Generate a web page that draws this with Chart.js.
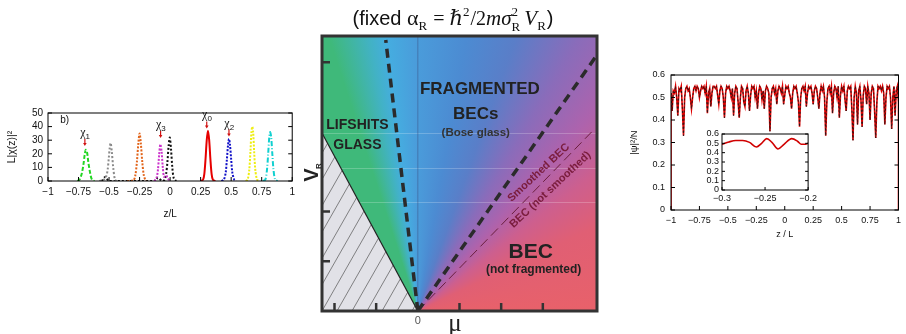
<!DOCTYPE html>
<html>
<head>
<meta charset="utf-8">
<script src="https://cdn.jsdelivr.net/npm/chart.js@4.4.1/dist/chart.umd.min.js"></script>
<style>
  body { margin: 0; background: #fff; width: 906px; height: 334px; position: relative; overflow: hidden; }
  .box { position: absolute; }
</style>
</head>
<body>
<div class="box" style="left:0;top:100px;width:300px;height:120px"><canvas id="chiChart"></canvas></div>
<div class="box" style="left:300px;top:0;width:310px;height:334px"><canvas id="phaseChart"></canvas></div>
<div class="box" style="left:620px;top:60px;width:286px;height:180px"><canvas id="psiChart"></canvas></div>
<div class="box" style="left:690px;top:125px;width:130px;height:85px"><canvas id="insetChart"></canvas></div>
<script>
Chart.defaults.font.family = '"Liberation Sans", Arial, sans-serif';
Chart.defaults.color = '#111';
Chart.defaults.animation = false;

// ---- left panel: localized states chi_n(z) ----
const chi1X = [-0.76, -0.745, -0.725, -0.71, -0.70, -0.69, -0.68, -0.67, -0.655, -0.64, -0.62];
const chi1Y = [0, 0.5, 5, 12, 19, 23, 21, 14, 6, 1, 0];
const greyX = [-0.58, -0.55, -0.525, -0.512, -0.502, -0.495, -0.487, -0.478, -0.466, -0.452, -0.44];
const greyY = [0, 0.5, 3, 8, 17, 24, 28, 22, 10, 1, 0];
const orangeX = [-0.35, -0.30, -0.285, -0.272, -0.26, -0.25, -0.24, -0.228, -0.215, -0.20];
const orangeY = [0, 0.5, 4, 14, 28, 35, 28, 14, 4, 0];
const chi3X = [-0.13, -0.112, -0.10, -0.09, -0.08, -0.07, -0.06, -0.05, -0.04, -0.03, -0.02, 0.0];
const chi3Y = [0, 2, 8, 19, 27, 22, 10, 3, 3.5, 4, 2, 0];
const blackX = [-0.56, -0.53, -0.50, -0.12, -0.10, -0.08, -0.06, -0.045, -0.033, -0.022, -0.012, -0.003, 0.007, 0.018, 0.03, 0.05];
const blackY = [0, 3, 0, 0, 2.5, 1, 0, 1, 5, 14, 26, 32, 24, 10, 2, 0];
const chi0X = [0.25, 0.27, 0.28, 0.29, 0.30, 0.31, 0.32, 0.33, 0.34, 0.35, 0.37];
const chi0Y = [0, 1, 5, 16, 30, 37, 30, 16, 5, 1, 0];
const chi2X = [0.42, 0.44, 0.455, 0.465, 0.475, 0.482, 0.49, 0.50, 0.51, 0.525, 0.54];
const chi2Y = [0, 1, 6, 16, 27, 31, 27, 16, 6, 1, 0];
const yellowX = [0.62, 0.635, 0.648, 0.658, 0.666, 0.673, 0.68, 0.688, 0.698, 0.712, 0.73];
const yellowY = [0, 1, 8, 22, 36, 40, 36, 22, 8, 1, 0];
const cyanX = [0.76, 0.78, 0.793, 0.803, 0.812, 0.82, 0.828, 0.837, 0.847, 0.86, 0.88];
const cyanY = [0, 1, 8, 20, 32, 36, 32, 20, 8, 1, 0];
const chiNames = ['1', '3', '0', '2'];
const chiLabelX = [-0.698, -0.078, 0.30, 0.482];
const chiLabelY = [33, 39, 46, 40];

// ---- middle panel: phase diagram (mu, V_R) ----
const muRange = [-2.3, 4.3];
const vRange = [0, 5.53];
const muTicks = [-2, -1, 1, 2, 3];
const vTicks = [1, 2, 5];
const hatchMu = [-2.3, 0, -2.3];
const hatchV = [3.58, 0, 0];
const steepMu = [0, -0.77];
const steepV = [0, 5.45];
const fragMu = [0, 4.3];
const fragV = [0, 5.15];
const smoothMu = [0, 4.17];
const smoothV = [0, 3.60];

// ---- right panel: density |psi|^2/N ----
const psiStart = -1, psiStep = 0.01;
const psiValues = [
  0.52, 0.44, 0.53, 0.52, 0.55, 0.50, 0.42, 0.54, 0.53, 0.55,
  0.45, 0.33, 0.50, 0.54, 0.55, 0.53, 0.54, 0.50, 0.45, 0.50,
  0.54, 0.55, 0.53, 0.55, 0.54, 0.50, 0.53, 0.55, 0.54, 0.55,
  0.52, 0.55, 0.43, 0.52, 0.54, 0.46, 0.52, 0.55, 0.55, 0.54,
  0.55, 0.51, 0.47, 0.53, 0.55, 0.54, 0.50, 0.41, 0.52, 0.55,
  0.54, 0.55, 0.53, 0.50, 0.54, 0.42, 0.52, 0.55, 0.54, 0.48,
  0.41, 0.50, 0.55, 0.54, 0.48, 0.46, 0.53, 0.55, 0.52, 0.44,
  0.51, 0.55, 0.54, 0.55, 0.50, 0.53, 0.45, 0.52, 0.55, 0.54,
  0.49, 0.53, 0.45, 0.53, 0.55, 0.54, 0.52, 0.35, 0.50, 0.54,
  0.55, 0.52, 0.54, 0.47, 0.53, 0.55, 0.54, 0.52, 0.55, 0.47,
  0.51, 0.55, 0.54, 0.55, 0.52, 0.50, 0.45, 0.52, 0.55, 0.54,
  0.55, 0.52, 0.48, 0.37, 0.50, 0.54, 0.55, 0.53, 0.55, 0.46,
  0.52, 0.55, 0.54, 0.55, 0.52, 0.47, 0.53, 0.55, 0.54, 0.50,
  0.45, 0.52, 0.55, 0.53, 0.55, 0.50, 0.33, 0.48, 0.54, 0.55,
  0.52, 0.55, 0.43, 0.52, 0.55, 0.54, 0.50, 0.55, 0.41, 0.51,
  0.55, 0.53, 0.55, 0.49, 0.44, 0.53, 0.55, 0.54, 0.55, 0.45,
  0.31, 0.50, 0.55, 0.52, 0.38, 0.53, 0.55, 0.49, 0.37, 0.51,
  0.55, 0.54, 0.47, 0.55, 0.52, 0.40, 0.52, 0.55, 0.54, 0.44,
  0.32, 0.48, 0.55, 0.54, 0.55, 0.53, 0.55, 0.52, 0.38, 0.50,
  0.55, 0.54, 0.55, 0.50, 0.36, 0.50, 0.55, 0.42, 0.53, 0.55,
  0.48
];
const insetX = [-0.300, -0.292, -0.284, -0.276, -0.268, -0.260, -0.254, -0.248, -0.242, -0.235, -0.228, -0.219, -0.212, -0.208, -0.204, -0.200];
const insetY = [0.49, 0.515, 0.53, 0.53, 0.51, 0.46, 0.50, 0.55, 0.51, 0.44, 0.49, 0.55, 0.52, 0.49, 0.49, 0.50];

const toPoints = (xs, ys) => xs.map((x, i) => ({ x, y: ys[i] }));
const fmt = (v) => {
  const r = Math.round(v * 1000) / 1000;
  return (r < 0 ? '\u2212' : '') + Math.abs(r);
};

// box + inward ticks, gnuplot style
const frame = {
  id: 'frame',
  afterDatasetsDraw(chart, args, opts) {
    const { ctx, chartArea: a, scales } = chart;
    const len = opts.tick || 4;
    ctx.save();
    ctx.strokeStyle = opts.color || '#000';
    ctx.lineWidth = opts.width || 1;
    ctx.strokeRect(a.left, a.top, a.width, a.height);
    ctx.beginPath();
    scales.x.ticks.forEach((t) => {
      const px = scales.x.getPixelForValue(t.value);
      ctx.moveTo(px, a.bottom);
      ctx.lineTo(px, a.bottom - len);
    });
    scales.y.ticks.forEach((t) => {
      const py = scales.y.getPixelForValue(t.value);
      ctx.moveTo(a.left, py);
      ctx.lineTo(a.left + len, py);
      if (opts.mirrorY) {
        ctx.moveTo(a.right, py);
        ctx.lineTo(a.right - len, py);
      }
    });
    ctx.stroke();
    ctx.restore();
  }
};

// ---------- left chart ----------
const chiSeries = [
  { x: chi1X, y: chi1Y, color: '#22d622', dash: [4, 2] },
  { x: greyX, y: greyY, color: '#8a8a8a', dash: [2, 2] },
  { x: orangeX, y: orangeY, color: '#e2641a', dash: [2, 1.5] },
  { x: chi3X, y: chi3Y, color: '#cc33cc', dash: [2, 1.5] },
  { x: blackX, y: blackY, color: '#111111', dash: [2, 2] },
  { x: chi0X, y: chi0Y, color: '#e60000', dash: [] },
  { x: chi2X, y: chi2Y, color: '#1010c8', dash: [2, 1.5] },
  { x: yellowX, y: yellowY, color: '#eeee10', dash: [2, 1.5] },
  { x: cyanX, y: cyanY, color: '#10d0d0', dash: [5, 2, 1, 2] }
];

const chiLabels = {
  id: 'chiLabels',
  afterDatasetsDraw(chart) {
    const { ctx, scales: { x, y } } = chart;
    ctx.save();
    ctx.fillStyle = '#111';
    ctx.textBaseline = 'alphabetic';
    chiNames.forEach((n, i) => {
      const px = x.getPixelForValue(chiLabelX[i]);
      const py = y.getPixelForValue(chiLabelY[i]);
      ctx.font = '12px "Liberation Serif", "DejaVu Serif", serif';
      const w = ctx.measureText('\u03c7').width;
      ctx.fillText('\u03c7', px - w / 2 - 2, py);
      ctx.font = '8px "Liberation Sans", sans-serif';
      ctx.fillText(n, px + w / 2 - 2, py + 3);
      // small red arrow
      ctx.strokeStyle = '#d01010';
      ctx.fillStyle = '#d01010';
      ctx.lineWidth = 1.2;
      ctx.beginPath();
      ctx.moveTo(px, py + 3);
      ctx.lineTo(px, py + 8);
      ctx.stroke();
      ctx.beginPath();
      ctx.moveTo(px - 1.8, py + 7);
      ctx.lineTo(px + 1.8, py + 7);
      ctx.lineTo(px, py + 10);
      ctx.fill();
      ctx.fillStyle = '#111';
    });
    ctx.font = '10px "Liberation Sans", sans-serif';
    ctx.fillText('b)', x.getPixelForValue(-0.9), y.getPixelForValue(43));
    ctx.restore();
  }
};

new Chart(document.getElementById('chiChart'), {
  type: 'line',
  data: {
    datasets: chiSeries.map((s) => ({
      data: toPoints(s.x, s.y),
      borderColor: s.color,
      borderWidth: 2,
      borderDash: s.dash,
      pointRadius: 0,
      tension: 0.3,
      fill: false
    }))
  },
  options: {
    responsive: true,
    maintainAspectRatio: false,
    layout: { padding: { top: 13, right: 7, left: 0, bottom: 0 } },
    plugins: { legend: { display: false }, tooltip: { enabled: false }, frame: { tick: 4, mirrorY: true } },
    scales: {
      x: {
        type: 'linear', min: -1, max: 1,
        grid: { display: false, drawTicks: false },
        border: { display: false },
        ticks: { stepSize: 0.25, padding: 5, font: { size: 10 }, maxRotation: 0, autoSkip: false, callback: fmt },
        title: { display: true, text: 'z/L', font: { size: 10 }, padding: 0 },
        afterFit: (s) => { s.height = 39; }
      },
      y: {
        min: 0, max: 50,
        grid: { display: false, drawTicks: false },
        border: { display: false },
        ticks: { stepSize: 10, padding: 5, font: { size: 10 }, autoSkip: false },
        title: { display: true, text: 'L|\u03c7(z)|\u00b2', font: { size: 10.5 }, padding: { top: 6, bottom: 0 } },
        afterFit: (s) => { s.width = 48; }
      }
    }
  },
  plugins: [frame, chiLabels]
});

// ---------- middle chart ----------
const phaseBg = {
  id: 'phaseBg',
  beforeDatasetsDraw(chart) {
    const { ctx, chartArea: a, scales: { x, y } } = chart;
    const ox = x.getPixelForValue(0), oy = y.getPixelForValue(0);
    ctx.save();
    const g = ctx.createConicGradient(-Math.PI, ox, oy);
    const stops = [
      [0, '#3fb97a'], [0.20, '#3fb97a'], [0.222, '#42b2c4'], [0.232, '#45ade0'],
      [0.248, '#4a9ddb'], [0.278, '#4c8bd2'], [0.305, '#5a7ec8'], [0.335, '#8a6cba'],
      [0.365, '#ad63ad'], [0.395, '#cd5f8e'], [0.43, '#e05f74'], [0.5, '#e8616a'], [1, '#e8616a']
    ];
    stops.forEach(([t, c]) => g.addColorStop(t, c));
    ctx.fillStyle = g;
    ctx.fillRect(a.left, a.top, a.width, a.height);
    // faint scan lines
    ctx.strokeStyle = 'rgba(255,255,255,0.22)';
    ctx.lineWidth = 1;
    [3.58, 2.88, 2.19].forEach((v) => {
      const py = Math.round(y.getPixelForValue(v)) + 0.5;
      ctx.beginPath();
      ctx.moveTo(a.left, py);
      ctx.lineTo(a.right, py);
      ctx.stroke();
    });
    // hatched region
    ctx.beginPath();
    hatchMu.forEach((m, i) => {
      const px = x.getPixelForValue(m), py = y.getPixelForValue(hatchV[i]);
      if (i === 0) ctx.moveTo(px, py); else ctx.lineTo(px, py);
    });
    ctx.closePath();
    ctx.fillStyle = '#e1e1e7';
    ctx.fill();
    ctx.clip();
    ctx.strokeStyle = '#555';
    ctx.lineWidth = 0.7;
    for (let k = -20; k < 20; k++) {
      const x0 = a.left + k * 15;
      ctx.beginPath();
      ctx.moveTo(x0, a.bottom);
      ctx.lineTo(x0 + 0.57 * a.height, a.top);
      ctx.stroke();
    }
    ctx.restore();
  },
  afterDatasetsDraw(chart) {
    const { ctx, chartArea: a, scales: { x, y } } = chart;
    const P = (m, v) => [x.getPixelForValue(m), y.getPixelForValue(v)];
    ctx.save();
    // inward ticks
    ctx.strokeStyle = '#333';
    ctx.lineWidth = 2.5;
    ctx.beginPath();
    muTicks.forEach((m) => {
      const px = x.getPixelForValue(m);
      ctx.moveTo(px, a.bottom);
      ctx.lineTo(px, a.bottom - 8);
    });
    vTicks.forEach((v) => {
      const py = y.getPixelForValue(v);
      ctx.moveTo(a.left, py);
      ctx.lineTo(a.left + 8, py);
    });
    ctx.stroke();
    ctx.lineWidth = 3;
    ctx.strokeRect(a.left, a.top, a.width, a.height);

    ctx.textAlign = 'center';
    ctx.textBaseline = 'middle';
    ctx.fillStyle = '#222';
    const txt = (s, m, v, font) => {
      ctx.font = font;
      const [px, py] = P(m, v);
      ctx.fillText(s, px, py);
    };
    txt('LIFSHITS', -1.45, 3.74, 'bold 14px "Liberation Sans", Arial, sans-serif');
    txt('GLASS', -1.45, 3.34, 'bold 14px "Liberation Sans", Arial, sans-serif');
    txt('FRAGMENTED', 1.49, 4.45, 'bold 17px "Liberation Sans", Arial, sans-serif');
    txt('BECs', 1.39, 3.96, 'bold 17px "Liberation Sans", Arial, sans-serif');
    ctx.fillStyle = '#333';
    txt('(Bose glass)', 1.39, 3.58, 'bold 11.5px "Liberation Sans", Arial, sans-serif');
    ctx.fillStyle = '#222';
    txt('BEC', 2.71, 1.19, 'bold 21px "Liberation Sans", Arial, sans-serif');
    txt('(not fragmented)', 2.78, 0.83, 'bold 12px "Liberation Sans", Arial, sans-serif');
    // labels along the smoothing crossover
    ctx.fillStyle = '#7a1c3c';
    ctx.font = 'bold 11px "Liberation Sans", Arial, sans-serif';
    [['Smoothed BEC', 2.90, 2.78], ['BEC (not smoothed)', 3.18, 2.44]].forEach(([s, m, v]) => {
      const [px, py] = P(m, v);
      ctx.save();
      ctx.translate(px, py);
      ctx.rotate(-43 * Math.PI / 180);
      ctx.fillText(s, 0, 0);
      ctx.restore();
    });
    ctx.restore();
  },
  afterDraw(chart) {
    const { ctx, chartArea: a, scales: { x } } = chart;
    ctx.save();
    ctx.fillStyle = '#111';
    ctx.textBaseline = 'alphabetic';
    // title with sub/superscripts
    const serif = '"Liberation Serif", "DejaVu Serif", serif';
    const parts = [
      { t: '(fixed ', f: '20px "Liberation Sans", Arial, sans-serif' },
      { t: '\u03b1', f: '22px ' + serif },
      { t: 'R', f: '13px ' + serif, dy: 5 },
      { t: ' = ', f: '20px ' + serif },
      { t: '\u210f', f: 'italic 21px ' + serif },
      { t: '2', f: '13px ' + serif, dy: -9 },
      { t: '/2', f: '20px ' + serif },
      { t: 'm\u03c3', f: 'italic 21px ' + serif },
      { t: '2', f: '13px ' + serif, dy: -9, stack: 'R' },
      { t: ' V', f: 'italic 21px ' + serif },
      { t: 'R', f: '13px ' + serif, dy: 5 },
      { t: ')', f: '20px "Liberation Sans", Arial, sans-serif' }
    ];
    let total = 0;
    parts.forEach((p) => { ctx.font = p.f; p.w = ctx.measureText(p.t).width + (p.dy ? 1 : 0); total += p.w; });
    let cx = 153 - total / 2;
    parts.forEach((p) => {
      ctx.font = p.f;
      ctx.fillText(p.t, cx, 25 + (p.dy || 0));
      if (p.stack) ctx.fillText(p.stack, cx, 31);
      cx += p.w;
    });
    // axis labels
    ctx.textAlign = 'center';
    ctx.fillStyle = '#555';
    ctx.font = '11px "Liberation Sans", Arial, sans-serif';
    ctx.fillText('0', x.getPixelForValue(0), a.bottom + 13);
    ctx.fillStyle = '#222';
    ctx.font = '25px "Liberation Serif", "DejaVu Serif", serif';
    ctx.fillText('\u03bc', 155, 331);
    ctx.translate(12, 175);
    ctx.rotate(-Math.PI / 2);
    ctx.font = 'bold 20px "Liberation Sans", Arial, sans-serif';
    ctx.fillText('V', 0, 6);
    ctx.font = 'bold 8px "Liberation Sans", Arial, sans-serif';
    ctx.fillText('R', 9, 9);
    ctx.restore();
  }
};

new Chart(document.getElementById('phaseChart'), {
  type: 'scatter',
  data: {
    datasets: [
      { data: toPoints(steepMu, steepV), showLine: true, borderColor: '#2b2b2b', borderWidth: 3.5, borderDash: [9, 6], pointRadius: 0 },
      { data: toPoints(fragMu, fragV), showLine: true, borderColor: '#2b2b2b', borderWidth: 3.5, borderDash: [9, 6], pointRadius: 0 },
      { data: toPoints(smoothMu, smoothV), showLine: true, borderColor: '#6b1f3e', borderWidth: 1, borderDash: [10, 5], pointRadius: 0 },
      { data: toPoints(hatchMu.slice(0, 2), hatchV.slice(0, 2)), showLine: true, borderColor: '#222', borderWidth: 1.2, pointRadius: 0 },
      { data: toPoints([0, 0], vRange), showLine: true, borderColor: 'rgba(60,90,140,0.55)', borderWidth: 1, pointRadius: 0 }
    ]
  },
  options: {
    responsive: true,
    maintainAspectRatio: false,
    layout: { padding: { left: 22, right: 13, top: 36, bottom: 23 } },
    plugins: { legend: { display: false }, tooltip: { enabled: false } },
    scales: {
      x: { type: 'linear', min: muRange[0], max: muRange[1], display: false },
      y: { min: vRange[0], max: vRange[1], display: false }
    }
  },
  plugins: [phaseBg]
});

// ---------- right chart ----------
const psiPoints = psiValues.map((v, i) => ({ x: psiStart + i * psiStep, y: v }));

new Chart(document.getElementById('psiChart'), {
  type: 'line',
  data: {
    datasets: [
      { data: psiPoints.map((p) => ({ ...p })), borderColor: '#1a1a1a', borderWidth: 0.9, borderDash: [2, 2], pointRadius: 0, tension: 0 },
      { data: [{ x: -1, y: 0 }, ...psiPoints, { x: 1, y: 0 }], borderColor: '#e00000', borderWidth: 1.6, pointRadius: 0, tension: 0 }
    ]
  },
  options: {
    responsive: true,
    maintainAspectRatio: false,
    layout: { padding: { top: 15, right: 3, left: 0, bottom: 0 } },
    plugins: { legend: { display: false }, tooltip: { enabled: false }, frame: { tick: 4, mirrorY: true } },
    scales: {
      x: {
        type: 'linear', min: -1, max: 1,
        grid: { display: false, drawTicks: false },
        border: { display: false },
        ticks: { stepSize: 0.25, padding: 5, font: { size: 9 }, maxRotation: 0, autoSkip: false, callback: fmt },
        title: { display: true, text: 'z / L', font: { size: 9 }, padding: 0 },
        afterFit: (s) => { s.height = 30; }
      },
      y: {
        min: 0, max: 0.6,
        grid: { display: false, drawTicks: false },
        border: { display: false },
        ticks: { stepSize: 0.1, padding: 6, font: { size: 9 }, autoSkip: false, callback: fmt },
        title: { display: true, text: '|\u03c8|\u00b2/N', font: { size: 9.5 }, padding: { top: 9, bottom: 0 } },
        afterFit: (s) => { s.width = 51; }
      }
    }
  },
  plugins: [frame]
});

// ---------- inset ----------
const whiteArea = {
  id: 'whiteArea',
  beforeDatasetsDraw(chart) {
    const { ctx, chartArea: a } = chart;
    ctx.save();
    ctx.fillStyle = '#fff';
    ctx.fillRect(a.left, a.top, a.width, a.height);
    ctx.restore();
  }
};

new Chart(document.getElementById('insetChart'), {
  type: 'line',
  data: {
    datasets: [
      { data: toPoints(insetX, insetY), borderColor: '#d00000', borderWidth: 1.6, pointRadius: 0, tension: 0.4, cubicInterpolationMode: 'monotone' }
    ]
  },
  options: {
    responsive: true,
    maintainAspectRatio: false,
    layout: { padding: { top: 9, right: 6, left: 0, bottom: 0 } },
    plugins: { legend: { display: false }, tooltip: { enabled: false }, frame: { tick: 3, mirrorY: true } },
    scales: {
      x: {
        type: 'linear', min: -0.3, max: -0.2,
        grid: { display: false, drawTicks: false },
        border: { display: false },
        ticks: { stepSize: 0.05, padding: 3, font: { size: 9 }, maxRotation: 0, autoSkip: false, callback: fmt },
        afterFit: (s) => { s.height = 20; }
      },
      y: {
        min: 0, max: 0.6,
        grid: { display: false, drawTicks: false },
        border: { display: false },
        ticks: { stepSize: 0.1, padding: 3, font: { size: 9 }, autoSkip: false, callback: fmt },
        afterFit: (s) => { s.width = 32; }
      }
    }
  },
  plugins: [whiteArea, frame]
});
</script>
</body>
</html>
